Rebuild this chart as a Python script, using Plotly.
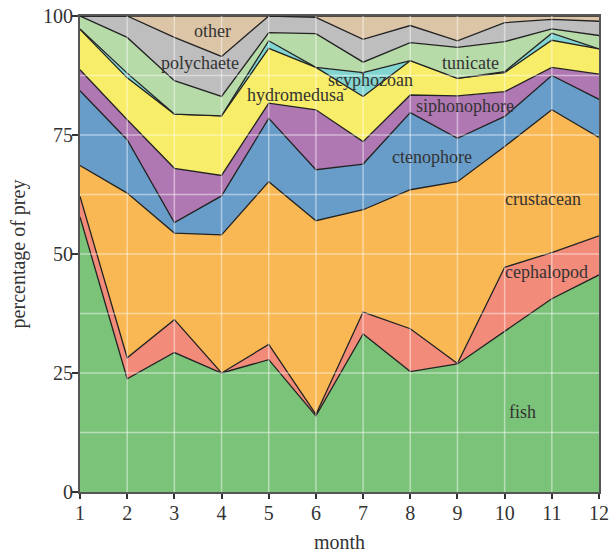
import plotly.graph_objects as go

months = list(range(1, 13))
fish = [57.8, 23.8, 29.3, 25.0, 27.8, 16.0, 33.2, 25.3, 26.9, 33.7, 40.6, 45.6]
cephalopod = [4.3, 4.4, 6.9, 0.0, 3.2, 0.3, 4.6, 9.0, 0.1, 13.5, 9.7, 8.2]
crustacean = [6.5, 34.6, 18.2, 29.0, 34.2, 40.7, 21.5, 29.2, 38.2, 25.4, 30.0, 20.7]
ctenophore = [15.7, 11.2, 2.2, 8.2, 13.3, 10.7, 9.6, 16.2, 9.1, 6.3, 7.2, 8.0]
siphonophore = [4.4, 4.2, 11.4, 4.3, 3.2, 12.6, 4.7, 3.7, 8.9, 5.2, 1.7, 5.3]
hydromedusa = [8.5, 8.8, 11.4, 12.5, 11.5, 8.9, 9.5, 7.2, 3.7, 4.0, 5.7, 5.3]
scyphozoan = [0.1, 1.0, 0.0, 0.0, 1.6, 0.0, 5.0, 0.0, 0.0, 0.2, 1.5, 0.0]
tunicate = [2.7, 7.5, 7.0, 4.1, 1.7, 7.1, 2.2, 3.8, 6.5, 6.3, 0.9, 2.8]
polychaete = [0.0, 4.5, 9.1, 8.4, 3.5, 3.4, 4.8, 3.6, 1.4, 4.0, 2.0, 3.0]
other = [0.0, 0.0, 4.5, 8.5, 0.0, 0.3, 4.9, 2.0, 5.2, 1.4, 0.7, 1.1]

series = [
    ("fish", fish, "#7cc37a"),
    ("cephalopod", cephalopod, "#f38b7a"),
    ("crustacean", crustacean, "#f9b854"),
    ("ctenophore", ctenophore, "#689dca"),
    ("siphonophore", siphonophore, "#b078b2"),
    ("hydromedusa", hydromedusa, "#f8ed68"),
    ("scyphozoan", scyphozoan, "#82d5d0"),
    ("tunicate", tunicate, "#b6dba8"),
    ("polychaete", polychaete, "#bebebe"),
    ("other", other, "#dcc4a6"),
]

# label positions (month, percentage)
label_names = ["other", "polychaete", "hydromedusa", "scyphozoan", "tunicate",
               "siphonophore", "ctenophore", "crustacean", "cephalopod", "fish"]
label_x = [3.81, 3.55, 5.57, 7.15, 9.27, 9.17, 8.47, 10.82, 10.88, 10.37]
label_y = [96.9, 90.1, 83.4, 86.6, 90.1, 81.1, 70.4, 61.6, 46.3, 16.9]

y_ticks = [0, 25, 50, 75, 100]
x_ticks = months

FONT = "Liberation Serif, Times New Roman, serif"

fig = go.Figure()
for name, vals, col in series:
    fig.add_trace(go.Scatter(
        x=months, y=vals, name=name, stackgroup="one", mode="lines",
        line=dict(color="#222222", width=1.3), fillcolor=col,
        showlegend=False, hoverinfo="skip"))

shapes = []
for m in months[1:-1]:
    shapes.append(dict(type="line", xref="x", yref="paper", x0=m, x1=m, y0=0, y1=1,
                       line=dict(color="rgba(255,255,255,0.45)", width=1.5), layer="above"))
g = 12.5
while g < 100:
    shapes.append(dict(type="line", xref="paper", yref="y", x0=0, x1=1, y0=g, y1=g,
                       line=dict(color="rgba(255,255,255,0.45)", width=1.5), layer="above"))
    g += 12.5

annotations = [dict(x=x, y=y, text=t, showarrow=False, xref="x", yref="y",
                    font=dict(family=FONT, size=18, color="#333333"))
               for t, x, y in zip(label_names, label_x, label_y)]

fig.update_layout(
    width=612, height=553,
    margin=dict(l=80, r=13, t=16, b=61, autoexpand=False),
    paper_bgcolor="white", plot_bgcolor="white",
    font=dict(family=FONT, size=20, color="#333333"),
    shapes=shapes, annotations=annotations,
    hovermode=False, dragmode=False,
    xaxis=dict(range=[1, 12], tickvals=x_ticks, showgrid=False, zeroline=False,
               automargin=False, ticklabeloverflow="allow", fixedrange=True,
               showline=True, mirror=True, linecolor="#555555", linewidth=2,
               ticks="outside", ticklen=5, tickwidth=2, tickcolor="#333333",
               ticklabelstandoff=-3,
               tickfont=dict(family=FONT, size=20, color="#333333"),
               title=dict(text="month", standoff=13,
                          font=dict(family=FONT, size=20, color="#333333"))),
    yaxis=dict(range=[0, 100], tickvals=y_ticks, showgrid=False, zeroline=False,
               automargin=False, ticklabeloverflow="allow", fixedrange=True,
               showline=True, mirror=True, linecolor="#555555", linewidth=2,
               ticks="outside", ticklen=6, tickwidth=2, tickcolor="#333333",
               ticklabelstandoff=-5,
               tickfont=dict(family=FONT, size=20, color="#333333"),
               title=dict(text="percentage of prey", standoff=12,
                          font=dict(family=FONT, size=20, color="#333333"))),
)

# remove the default 8px page margin so the figure sits at the window origin
fig.write_html("out.html", config={"displayModeBar": False},
               post_script="document.body.style.margin='0';")
